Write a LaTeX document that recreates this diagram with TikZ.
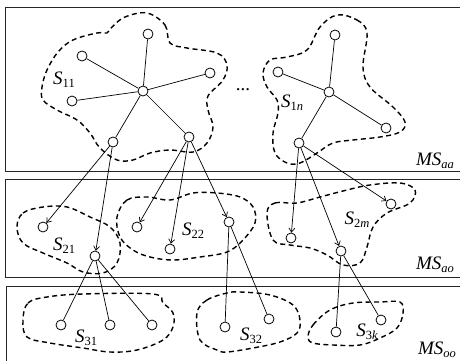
\documentclass[tikz,border=0pt]{standalone}
\usepackage{fontspec}
\setmainfont{Liberation Serif}
\usetikzlibrary{arrows.meta}
\newcommand{\lab}[2]{\textit{#1}\raisebox{-0.35ex}{\fontsize{12.5}{12.5}\selectfont #2}}
\tikzset{
  vtx/.style={circle,draw,line width=0.8pt,minimum size=10pt,inner sep=0pt,fill=white},
  edge/.style={line width=0.7pt},
  arr/.style={line width=0.7pt,-{Straight Barb[length=4pt,width=6pt]}},
  blob/.style={line width=1.4pt,dash pattern=on 5pt off 3.5pt},
  panel/.style={line width=0.8pt,draw=black!85},
  lbl/.style={font=\fontsize{19}{19}\selectfont,inner sep=0pt}
}
\begin{document}
\begin{tikzpicture}[x=1pt,y=-1pt]
\clip (0,0) rectangle (460,361);
\fill[white] (0,0) rectangle (460,361);
% panels
\draw[panel] (5,7) rectangle (470,171);
\draw[panel] (5,179) rectangle (470,277);
\draw[panel] (6,286) rectangle (470,375);
% blobs
\draw[blob] plot[smooth cycle,tension=0.6] coordinates {(147,13) (165,25) (170,43) (187,48) (217,53) (227,65) (223,80) (208,96) (208,110) (213,127) (207,143) (193,152) (170,150) (150,153) (133,160) (117,160) (100,148) (90,133) (77,120) (57,110) (43,100) (42,87) (47,70) (58,52) (73,40) (97,33) (107,33) (112,27) (125,17)};
\draw[blob] plot[smooth cycle,tension=0.6] coordinates {(337,15) (357,20) (367,33) (363,67) (370,87) (393,107) (405,122) (400,132) (380,137) (353,140) (333,143) (317,153) (300,163) (287,163) (275,153) (273,133) (278,113) (277,100) (267,87) (263,73) (270,60) (287,57) (307,50) (320,27)};
\draw[blob] plot[smooth cycle,tension=0.6] coordinates {(17,227) (23,213) (43,207) (67,207) (90,217) (110,227) (120,243) (117,263) (103,273) (83,272) (67,263) (43,253) (23,243)};
\draw[blob] plot[smooth cycle,tension=0.6] coordinates {(117,217) (127,200) (147,197) (170,200) (193,193) (217,193) (240,197) (253,207) (255,223) (243,240) (227,252) (200,257) (173,260) (150,257) (133,250) (120,237)};
\draw[blob] plot[smooth cycle,tension=0.6] coordinates {(267,213) (275,203) (297,203) (320,197) (347,190) (370,185) (400,183) (415,190) (410,203) (387,213) (373,227) (367,247) (360,263) (343,265) (327,255) (310,248) (290,245) (273,240)};
\draw[blob] plot[smooth cycle,tension=0.6] coordinates {(23,320) (28,303) (47,297) (83,294) (153,294) (163,303) (173,313) (173,327) (163,340) (137,350) (110,352) (83,348) (50,343) (27,337)};
\draw[blob] plot[smooth cycle,tension=0.6] coordinates {(197,313) (207,300) (227,293) (240,292) (270,295) (293,305) (300,320) (297,333) (280,342) (253,348) (227,352) (217,350) (200,340)};
\draw[blob] plot[smooth cycle,tension=0.6] coordinates {(308,337) (313,325) (330,310) (353,303) (380,302) (400,302) (403,313) (397,328) (380,338) (360,345) (333,345) (313,343)};
% top row nodes S11
\node[vtx] (a0) at (143,91) {};
\node[vtx] (a1) at (148,34) {};
\node[vtx] (a2) at (82,56) {};
\node[vtx] (a3) at (210,73) {};
\node[vtx] (a4) at (72,101) {};
\node[vtx] (a5) at (113,142) {};
\node[vtx] (a6) at (189,137) {};
% S1n
\node[vtx] (b0) at (329,92) {};
\node[vtx] (b1) at (335,35) {};
\node[vtx] (b2) at (278,72) {};
\node[vtx] (b3) at (386,128) {};
\node[vtx] (b4) at (299,143) {};
% middle row
\node[vtx] (c1) at (43,227) {};
\node[vtx] (c2) at (95,256) {};
\node[vtx] (c3) at (137,227) {};
\node[vtx] (c4) at (170,249) {};
\node[vtx] (c5) at (229,222) {};
\node[vtx] (c6) at (291,238) {};
\node[vtx] (c7) at (341,251) {};
\node[vtx] (c8) at (391,204) {};
% bottom row
\node[vtx] (d1) at (61,325) {};
\node[vtx] (d2) at (110,325) {};
\node[vtx] (d3) at (152,325) {};
\node[vtx] (d4) at (225,327) {};
\node[vtx] (d5) at (269,319) {};
\node[vtx] (d6) at (336,332) {};
\node[vtx] (d7) at (381,320) {};
% edges
\foreach \t in {a1,a2,a3,a4,a5,a6} \draw[edge] (a0) -- (\t);
\foreach \t in {b1,b2,b3,b4} \draw[edge] (b0) -- (\t);
\draw[arr] (a5) -- (c1);
\draw[arr] (a5) -- (c2);
\draw[arr] (a6) -- (c3);
\draw[arr] (a6) -- (c4);
\draw[arr] (a6) -- (c5);
\draw[arr] (b4) -- (c6);
\draw[arr] (b4) -- (c7);
\draw[arr] (b4) -- (c8);
\foreach \t in {d1,d2,d3} \draw[edge] (c2) -- (\t);
\foreach \t in {d4,d5} \draw[edge] (c5) -- (\t);
\foreach \t in {d6,d7} \draw[edge] (c7) -- (\t);
% labels
\node[lbl] (l11) at (64,80) {\lab{S}{11}};
\node[lbl] (l1n) at (292,103) {\lab{S}{1\textit{n}}};
\node[lbl] (ldots) at (243,90) {...};
\node[lbl] (l21) at (64,246) {\lab{S}{21}};
\node[lbl] (l22) at (193,231) {\lab{S}{22}};
\node[lbl] (l2m) at (357,220) {\lab{S}{2\textit{m}}};
\node[lbl] (l31) at (86,338) {\lab{S}{31}};
\node[lbl] (l32) at (251,336) {\lab{S}{32}};
\node[lbl] (l3k) at (367,332) {\lab{S}{3\textit{k}}};
\node[lbl] (maa) at (435,161) {\lab{MS}{\textit{aa}}};
\node[lbl] (mao) at (435,265) {\lab{MS}{\textit{ao}}};
\node[lbl] (moo) at (437,350) {\lab{MS}{\textit{oo}}};
\end{tikzpicture}
\end{document}
